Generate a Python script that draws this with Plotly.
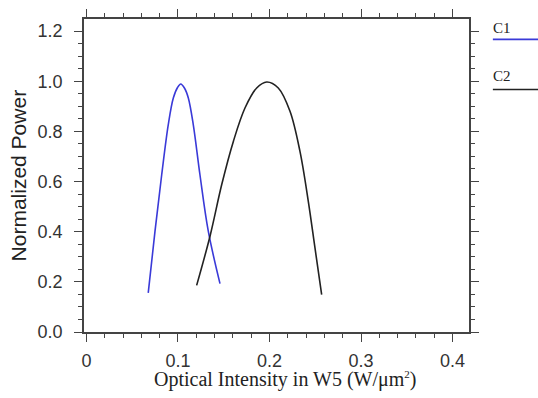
import plotly.graph_objects as go

# C1 (blue) series
c1_x = [0.0675, 0.0749, 0.0822, 0.0894, 0.0949, 0.0995, 0.1030, 0.1072, 0.1113, 0.1167, 0.1240, 0.1331, 0.1459]
c1_y = [0.156, 0.402, 0.627, 0.827, 0.933, 0.975, 0.989, 0.972, 0.933, 0.827, 0.627, 0.402, 0.193]

# C2 (black) series
c2_x = [0.1204, 0.135, 0.1478, 0.1605, 0.1732, 0.186, 0.197, 0.2096, 0.2224, 0.2333, 0.2424, 0.2497, 0.257]
c2_y = [0.186, 0.382, 0.588, 0.760, 0.893, 0.973, 0.997, 0.973, 0.880, 0.720, 0.521, 0.335, 0.149]

series_names = ["C1", "C2"]
series_colors = ["#3a3ad8", "#222222"]

x_ticks = [0, 0.1, 0.2, 0.3, 0.4]
x_ticklabels = ["0", "0.1", "0.2", "0.3", "0.4"]
y_ticks = [0.0, 0.2, 0.4, 0.6, 0.8, 1.0, 1.2]
y_ticklabels = ["0.0", "0.2", "0.4", "0.6", "0.8", "1.0", "1.2"]

fig = go.Figure()
for xs, ys, name, col in zip([c1_x, c2_x], [c1_y, c2_y], series_names, series_colors):
    fig.add_trace(go.Scatter(x=xs, y=ys, mode="lines", name=name,
                             line=dict(color=col, width=1.6, shape="spline", smoothing=1.0),
                             showlegend=False))

axis_col = "#444444"
sans = "Liberation Sans, Arial, sans-serif"
serif = "Liberation Serif, Times New Roman, serif"

fig.update_layout(
    width=538, height=398,
    margin=dict(l=84, r=69, t=19, b=66, autoexpand=False),
    paper_bgcolor="white", plot_bgcolor="white",
    showlegend=False,
    xaxis=dict(range=[-0.0027, 0.418], tickvals=x_ticks, ticktext=x_ticklabels,
               automargin=False,
               showgrid=False, zeroline=False, showline=True, linecolor=axis_col, linewidth=1.5,
               ticks="outside", ticklen=8, tickwidth=1.3, tickcolor=axis_col, mirror="allticks",
               tickfont=dict(family=sans, size=18, color="#333"), ticklabelstandoff=4,
               minor=dict(dtick=0.02, tick0=0, ticks="outside", ticklen=4, tickwidth=1.2, tickcolor=axis_col)),
    yaxis=dict(range=[0, 1.248], tickvals=y_ticks, ticktext=y_ticklabels,
               automargin=False,
               showgrid=False, zeroline=False, showline=True, linecolor=axis_col, linewidth=1.5,
               ticks="outside", ticklen=8, tickwidth=1.3, tickcolor=axis_col, mirror="allticks",
               tickfont=dict(family=sans, size=18, color="#333"), ticklabelstandoff=8,
               minor=dict(dtick=0.05, tick0=0, ticks="outside", ticklen=4, tickwidth=1.2, tickcolor=axis_col)),
)

# axis titles
fig.add_annotation(x=0.522, y=-0.153, xref="paper", yref="paper", showarrow=False,
                   text="Optical Intensity in W5 (W/μm<sup><span style='font-size:11px'>2</span></sup>)",
                   xanchor="center", yanchor="middle",
                   font=dict(family=serif, size=20, color="#222"))
fig.add_annotation(x=-0.169, y=0.5, xref="paper", yref="paper", showarrow=False,
                   text="Normalized Power", textangle=-90, xanchor="center", yanchor="middle",
                   font=dict(family=sans, size=21, color="#222"))

# legend drawn as text above a line sample, outside right of the plot
leg_text_y = [0.971, 0.818]
leg_line_y = [0.935, 0.775]
for name, col, ty, ly in zip(series_names, series_colors, leg_text_y, leg_line_y):
    fig.add_annotation(x=1.058, y=ty, xref="paper", yref="paper", text=name, showarrow=False,
                       xanchor="left", yanchor="middle", font=dict(family=serif, size=15, color="#222"))
    fig.add_shape(type="line", xref="paper", yref="paper", x0=1.062, x1=1.2, y0=ly, y1=ly,
                  line=dict(color=col, width=1.6))

fig.write_html("out.html", config={"displayModeBar": False},
               post_script="document.body.style.margin='0';document.body.style.padding='0';")
